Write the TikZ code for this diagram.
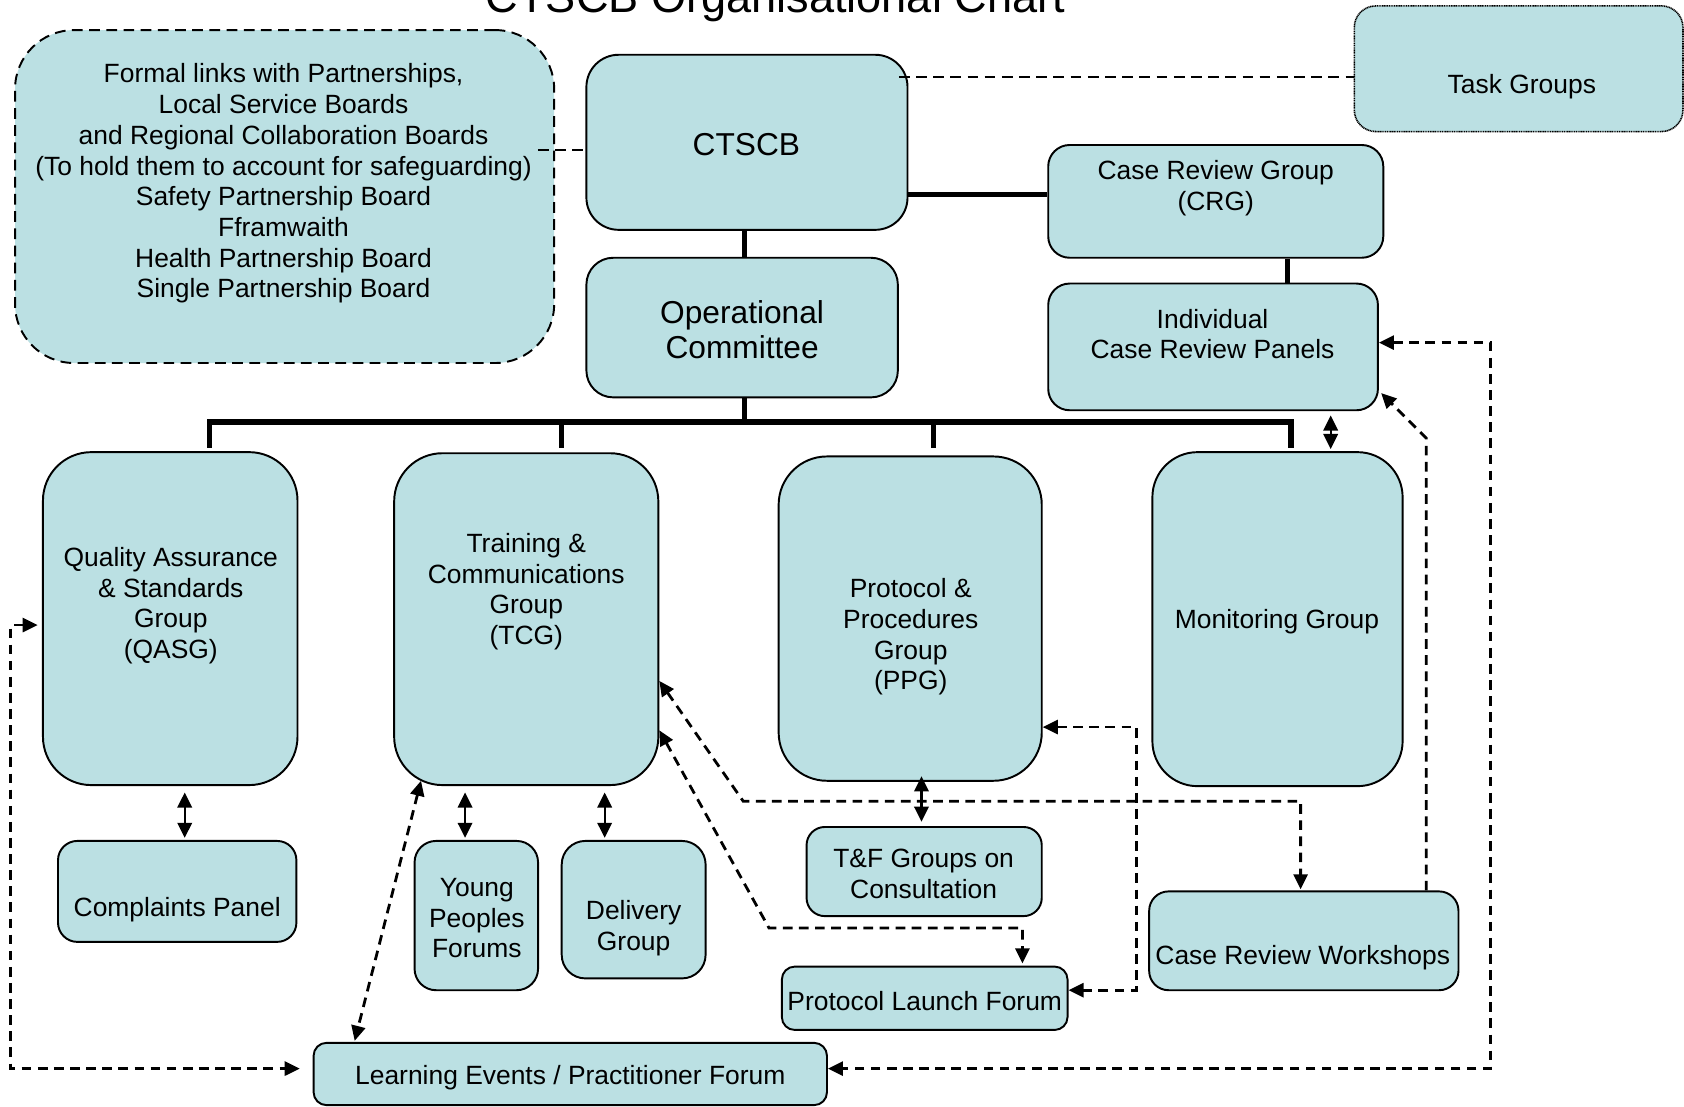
\documentclass[tikz,border=0pt]{standalone}
\usepackage{fontspec}
\setmainfont{Liberation Sans}
\usetikzlibrary{arrows.meta}
\definecolor{boxfill}{RGB}{187,224,227}
\begin{document}
\begin{tikzpicture}[x=1pt,y=-1pt,
  box/.style={draw=black, line width=1.8pt, fill=boxfill, inner sep=0pt},
  txt/.style={align=center, inner sep=0pt, font=\fontsize{24.6}{28.6}\selectfont},
  bigtxt/.style={align=center, inner sep=0pt, font=\fontsize{29.5}{33}\selectfont},
  thickline/.style={line width=5pt},
  dblarrow/.style={line width=1.9pt, {Triangle[length=14pt,width=13.5pt]}-{Triangle[length=14pt,width=13.5pt]}},
  dasharrow/.style={line width=2.6pt, dash pattern=on 9pt off 6pt, {Triangle[length=14pt,width=13pt]}-{Triangle[length=14pt,width=13pt]}},
  darrow/.style={line width=2.6pt, dash pattern=on 9pt off 6pt, -{Triangle[length=14pt,width=13pt]}},
  thindash/.style={line width=1.8pt, dash pattern=on 10pt off 6pt}
  ]
\useasboundingbox (0,0) rectangle (1568,1030);

\node[anchor=base, inner sep=0pt, font=\fontsize{42}{48}\selectfont] (title) at (722,12) {CTSCB Organisational Chart};

% boxes
\node[box, rounded corners=55pt, dash pattern=on 10pt off 6pt, minimum width=502pt, minimum height=310pt] (formal) at (265,183) {};
\node[txt] (formalT) at (264,171) {Formal links with Partnerships,\\Local Service Boards\\and Regional Collaboration Boards\\(To hold them to account for safeguarding)\\Safety Partnership Board\\Fframwaith\\Health Partnership Board\\Single Partnership Board};

\node[box, rounded corners=30pt, minimum width=299pt, minimum height=163pt] (ctscb) at (695.5,132.5) {};
\node[bigtxt] (ctscbT) at (695,135) {CTSCB};

\node[box, rounded corners=20pt, line width=1.5pt, dash pattern=on 1pt off 0.6pt, minimum width=306pt, minimum height=117pt] (tg) at (1414,64) {};
\node[txt] (tgT) at (1417,81) {Task Groups};

\node[box, rounded corners=20pt, minimum width=312pt, minimum height=105pt] (crg) at (1132,187.5) {};
\node[txt] (crgT) at (1132,175) {Case Review Group\\(CRG)};

\node[box, rounded corners=25pt, minimum width=290pt, minimum height=130pt] (oper) at (691,305) {};
\node[bigtxt] (operT) at (691,307) {Operational\\Committee};

\node[box, rounded corners=20pt, minimum width=307pt, minimum height=118pt] (icrp) at (1129.5,323) {};
\node[txt] (icrpT) at (1129,311) {Individual\\Case Review Panels};

\node[box, rounded corners=45pt, minimum width=237pt, minimum height=310pt] (qasg) at (158.5,576) {};
\node[txt] (qasgT) at (159,564) {Quality Assurance\\\& Standards\\Group\\(QASG)};

\node[box, rounded corners=45pt, minimum width=246pt, minimum height=309pt] (tcg) at (490,576.5) {};
\node[txt] (tcgT) at (490,551) {Training \&\\Communications\\Group\\(TCG)};

\node[box, rounded corners=45pt, minimum width=245pt, minimum height=302pt] (ppg) at (847.5,576) {};
\node[txt] (ppgT) at (848,593) {Protocol \&\\Procedures\\Group\\(PPG)};

\node[box, rounded corners=42pt, minimum width=233pt, minimum height=311pt] (mon) at (1189.5,576.5) {};
\node[txt] (monT) at (1189,579) {Monitoring Group};

\node[box, rounded corners=18pt, minimum width=222pt, minimum height=94pt] (compl) at (165,830) {};
\node[txt] (complT) at (165,847) {Complaints Panel};

\node[box, rounded corners=20pt, minimum width=115pt, minimum height=139pt] (young) at (443.5,852.5) {};
\node[txt] (youngT) at (444,855) {Young\\Peoples\\Forums};

\node[box, rounded corners=22pt, minimum width=134pt, minimum height=128pt] (deliv) at (590,847) {};
\node[txt] (delivT) at (590,864) {Delivery\\Group};

\node[box, rounded corners=17pt, minimum width=219pt, minimum height=83pt] (tf) at (860.5,811.5) {};
\node[txt] (tfT) at (860,814) {T\&F Groups on\\Consultation};

\node[box, rounded corners=12pt, minimum width=266pt, minimum height=59pt] (plf) at (861,929.5) {};
\node[txt] (plfT) at (861,932) {Protocol Launch Forum};

\node[box, rounded corners=18pt, minimum width=288pt, minimum height=92pt] (crw) at (1214,876) {};
\node[txt] (crwT) at (1213,892) {Case Review Workshops};

\node[box, rounded corners=12pt, minimum width=478pt, minimum height=58pt] (le) at (531,1000) {};
\node[txt] (leT) at (531,1003) {Learning Events / Practitioner Forum};

% solid hierarchy lines
\draw[thickline] (ctscb.south -| 693,0) -- (oper.north -| 693,0);
\draw[thickline] (ctscb.east |- 0,181) -- (crg.west |- 0,181);
\draw[thickline] (crg.south -| 1199,0) -- (icrp.north -| 1199,0);
\coordinate (busC) at (693,393);
\coordinate (busL) at (195,393);
\coordinate (busR) at (1202,393);
\coordinate (dropA) at (195,417);
\coordinate (dropB) at (523,417);
\coordinate (dropC) at (869,417);
\coordinate (dropD) at (1202,417);
\draw[thickline] (oper.south -| busC) -- (busC);
\draw[thickline] (dropA) -- (busL) -- (busR) -- (dropD);
\draw[thickline] (busL -| dropB) -- (dropB);
\draw[thickline] (busL -| dropC) -- (dropC);

% solid double arrows
\draw[dblarrow, shorten <=6pt, shorten >=2pt] (qasg.south -| 172,0) -- (compl.north -| 172,0);
\draw[dblarrow, shorten <=6pt, shorten >=2pt] (tcg.south -| 433,0) -- (young.north -| 433,0);
\draw[dblarrow, shorten <=6pt, shorten >=2pt] (tcg.south -| 563,0) -- (deliv.north -| 563,0);
\draw[dblarrow, shorten <=-5pt, shorten >=4pt] (ppg.south -| 858,0) -- (tf.north -| 858,0);
\draw[dblarrow, shorten <=4pt, shorten >=2pt] (icrp.south -| 1239,0) -- (mon.north -| 1239,0);

% dashed links
\draw[thindash, shorten <=-16pt] (formal.east |- 0,140) -- (ctscb.west |- 0,140);
\draw[thindash, shorten <=-9pt] (ctscb.east |- 0,72) -- (tg.west |- 0,72);

\coordinate (tcgSW) at (392,727);
\draw[dasharrow, shorten <=4pt, shorten >=12pt] (qasg.west |- 0,582) -- (10,582) -- (10,995) -- (le.west |- 0,995);
\draw[dasharrow, shorten >=1pt] (tcgSW) -- (le.north -| 330,0);
\draw[dasharrow] (icrp.east |- 0,319) -- (1388,319) -- (1388,995) -- (le.east |- 0,995);
\draw[darrow] (crw.north -| 1328,0) -- (1328,408) -- (1286,366);
\draw[dasharrow, shorten >=1pt] (tcg.east |- 0,634) -- (692,746) -- (1211,746) -- (crw.north -| 1211,0);
\draw[dasharrow, shorten >=2pt] (tcg.east |- 0,680) -- (716,864) -- (952,864) -- (plf.north -| 952,0);
\draw[dasharrow] (ppg.east |- 0,677) -- (1058,677) -- (1058,922) -- (plf.east |- 0,922);
\end{tikzpicture}
\end{document}
